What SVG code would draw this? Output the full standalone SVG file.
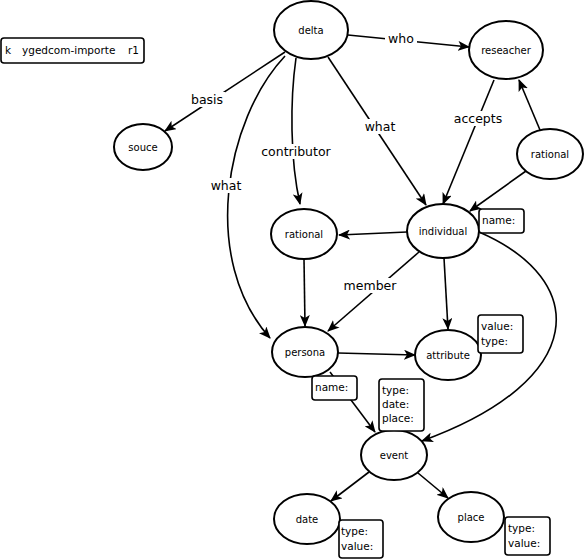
<svg xmlns="http://www.w3.org/2000/svg" width="584" height="559" viewBox="0 0 584 559">
<style>
.n{fill:#fff;stroke:#000;stroke-width:2}
.b{fill:#fff;stroke:#000;stroke-width:1.6}
.t{font-family:"DejaVu Sans",sans-serif;font-size:10px;text-anchor:middle;fill:#000}
.bt{font-family:"DejaVu Sans",sans-serif;font-size:10.5px;fill:#000}
.l{font-family:"DejaVu Sans",sans-serif;font-size:12.5px;text-anchor:middle;fill:#000}
.e{fill:none;stroke:#000;stroke-width:1.6;marker-end:url(#a)}
.lb{fill:#fff}
</style>
<defs>
<marker id="a" viewBox="0 0 12 10" refX="11" refY="5" markerWidth="12" markerHeight="10" markerUnits="userSpaceOnUse" orient="auto">
<path d="M0,0 L12,5 L0,10 L3,5 Z" fill="#000"/>
</marker>
</defs>
<rect x="0" y="0" width="584" height="559" fill="#fff"/>
<g id="connectors">
<path class="e" d="M348,35 L469,47"/>
<path class="e" d="M285,52 L165,131"/>
<path class="e" d="M285,56 C225,120 200,260 270,338"/>
<path class="e" d="M296,58 C290,100 290,160 300,204"/>
<path class="e" d="M328,57 L426,205"/>
<path class="e" d="M494,80 L443,204"/>
<path class="e" d="M540,130 L519,80"/>
<path class="e" d="M526,171 L470,211"/>
<path class="e" d="M407,232 L339,235"/>
<path class="e" d="M419,252 L328,331"/>
<path class="e" d="M444,258 L448,329"/>
<path class="e" d="M479,232 C590,280 590,380 422,441"/>
<path class="e" d="M304,259 L305,326"/>
<path class="e" d="M338,353 L415,355"/>
<path class="e" d="M330,372 L375,432"/>
<path class="e" d="M369,472 L331,501"/>
<path class="e" d="M418,473 L448,498"/>
<rect class="lb" x="385" y="31" width="32" height="15"/>
<text class="l" x="401" y="43">who</text>
<rect class="lb" x="189" y="92" width="36" height="15"/>
<text class="l" x="207" y="104">basis</text>
<rect class="lb" x="209" y="178" width="34" height="15"/>
<text class="l" x="226" y="190">what</text>
<rect class="lb" x="258" y="144" width="76" height="15"/>
<text class="l" x="296" y="156">contributor</text>
<rect class="lb" x="363" y="119" width="34" height="15"/>
<text class="l" x="380" y="131">what</text>
<rect class="lb" x="452" y="111" width="52" height="15"/>
<text class="l" x="478" y="123">accepts</text>
<rect class="lb" x="343" y="278" width="54" height="15"/>
<text class="l" x="370" y="290">member</text>
</g>
<g id="importer">
<rect class="b" x="1" y="38" width="143" height="25" rx="3"/>
<text class="bt" x="5" y="54">k</text>
<text class="bt" x="22" y="54">ygedcom-importe</text>
<text class="bt" x="128" y="54">r1</text>
</g>
<g id="delta"><ellipse class="n" cx="311" cy="30" rx="37" ry="29"/><text class="t" x="311" y="34">delta</text></g>
<g id="reseacher"><ellipse class="n" cx="506" cy="50" rx="37" ry="29"/><text class="t" x="506" y="54">reseacher</text></g>
<g id="souce"><ellipse class="n" cx="143" cy="147" rx="29" ry="23"/><text class="t" x="143" y="151">souce</text></g>
<g id="rational-right"><ellipse class="n" cx="550" cy="154" rx="33" ry="25"/><text class="t" x="550" y="158">rational</text></g>
<g id="rational-left"><ellipse class="n" cx="304" cy="234" rx="33" ry="25"/><text class="t" x="304" y="238">rational</text></g>
<g id="individual"><ellipse class="n" cx="443" cy="231" rx="36" ry="27"/><text class="t" x="443" y="235">individual</text>
<rect class="b" x="479" y="209" width="45" height="24" rx="3"/><text class="bt" x="482" y="224">name:</text></g>
<g id="persona"><ellipse class="n" cx="305" cy="352" rx="33" ry="25"/><text class="t" x="305" y="356">persona</text>
<rect class="b" x="312" y="376" width="45" height="24" rx="3"/><text class="bt" x="315" y="391">name:</text></g>
<g id="attribute"><ellipse class="n" cx="448" cy="355" rx="33" ry="25"/><text class="t" x="448" y="359">attribute</text>
<rect class="b" x="478" y="315" width="45" height="38" rx="3"/><text class="bt" x="481" y="330">value:</text><text class="bt" x="481" y="345">type:</text></g>
<g id="event"><ellipse class="n" cx="394" cy="455" rx="33" ry="25"/><text class="t" x="394" y="459">event</text>
<rect class="b" x="379" y="379" width="45" height="52" rx="3"/><text class="bt" x="382" y="394">type:</text><text class="bt" x="382" y="408">date:</text><text class="bt" x="382" y="422">place:</text></g>
<g id="date"><ellipse class="n" cx="307" cy="519" rx="33" ry="25"/><text class="t" x="307" y="523">date</text>
<rect class="b" x="339" y="520" width="44" height="38" rx="3"/><text class="bt" x="341" y="535">type:</text><text class="bt" x="341" y="550">value:</text></g>
<g id="place"><ellipse class="n" cx="471" cy="517" rx="33" ry="25"/><text class="t" x="471" y="521">place</text>
<rect class="b" x="505" y="517" width="45" height="38" rx="3"/><text class="bt" x="508" y="532">type:</text><text class="bt" x="508" y="547">value:</text></g>
</svg>
